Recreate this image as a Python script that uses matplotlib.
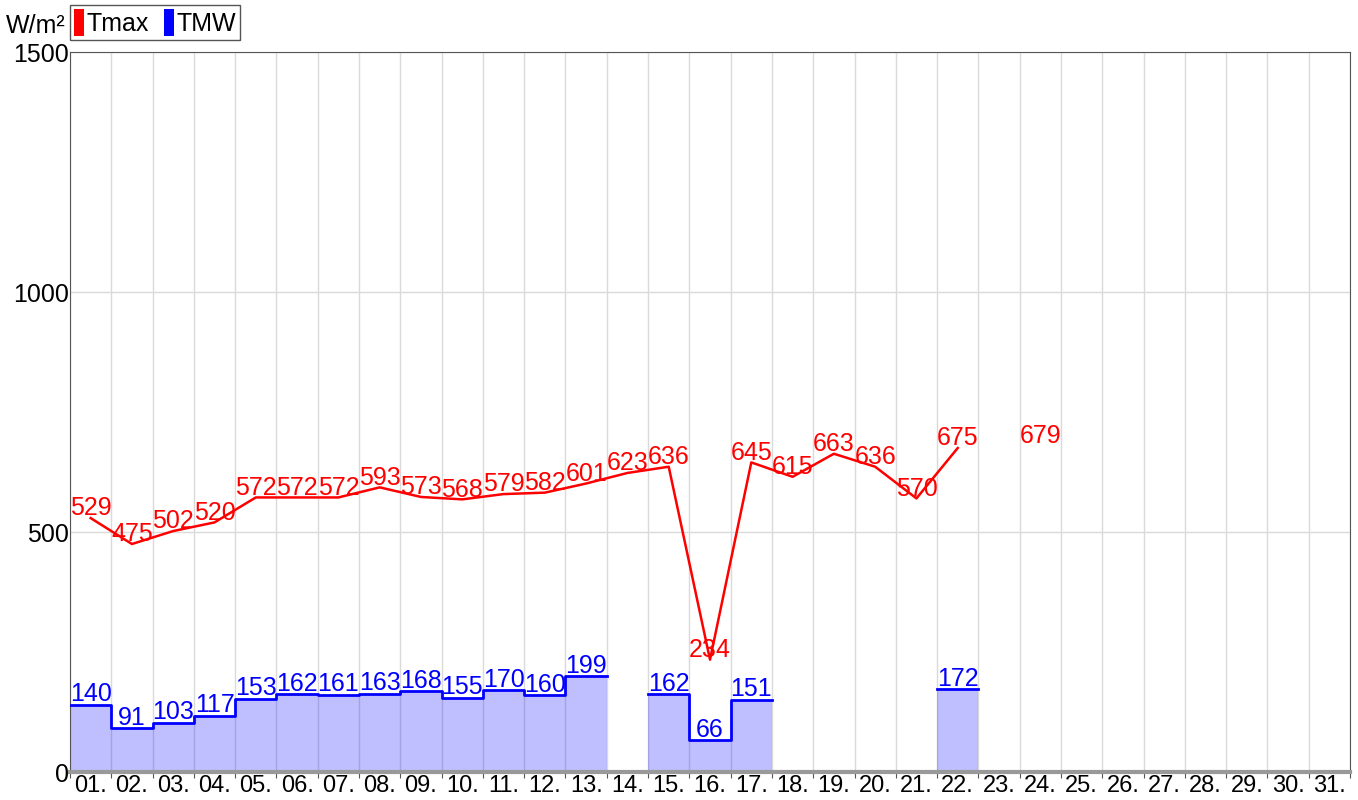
import numpy as np
import matplotlib.pyplot as plt
from matplotlib.patches import Patch

plt.rcParams['font.family'] = ['Liberation Sans', 'DejaVu Sans']

days = [f"{d:02d}." for d in range(1, 32)]
# daily max irradiance (None = no data)
tmax = [529, 475, 502, 520, 572, 572, 572, 593, 573, 568, 579, 582, 601, 623,
        636, 234, 645, 615, 663, 636, 570, 675, None, 679] + [None] * 7
# daily mean irradiance
tmw = [140, 91, 103, 117, 153, 162, 161, 163, 168, 155, 170, 160, 199, None,
       162, 66, 151, None, None, None, None, 172] + [None] * 9

FS = 18

fig = plt.figure(figsize=(13.58, 8), dpi=100)
ax = fig.add_axes([70 / 1358, 28 / 800, 1280 / 1358, 720 / 800])

n = len(days)
centers = np.arange(n) + 0.5

ax.set_axisbelow(True)
ax.grid(True, color='#dadada', linewidth=1)

# TMW bars as stepped fill, one block per contiguous run of days
runs = []
cur = []
for i, v in enumerate(tmw):
    if v is None:
        if cur:
            runs.append(cur)
        cur = []
    else:
        cur.append(i)
if cur:
    runs.append(cur)

for run in runs:
    xs = []
    ys = []
    for i in run:
        xs += [i, i + 1]
        ys += [tmw[i], tmw[i]]
    ax.fill_between(xs, 0, ys, color='blue', alpha=0.25, linewidth=0, zorder=2)
    ax.plot(xs, ys, color='blue', linewidth=2, zorder=3)

for i, v in enumerate(tmw):
    if v is not None:
        ax.text(centers[i], v - 3, str(v), color='blue', fontsize=FS,
                ha='center', va='bottom', zorder=5)

# Tmax line
ty = np.array([np.nan if v is None else v for v in tmax], dtype=float)
ax.plot(centers, ty, color='red', linewidth=1.8, zorder=4)
for i, v in enumerate(tmax):
    if v is not None:
        ax.text(centers[i], v - 5, str(v), color='red', fontsize=FS,
                ha='center', va='bottom', zorder=5)

ax.set_xlim(0, n)
ax.set_ylim(0, 1500)
ax.set_xticks(np.arange(n + 1))
ax.set_xticklabels([])
ax.set_xticks(centers, minor=True)
ax.set_xticklabels(days, minor=True, fontsize=17)
ax.tick_params(axis='x', which='minor', length=0, pad=2)
ax.tick_params(axis='x', which='major', length=4, color='#555555')
ax.set_yticks([0, 500, 1000, 1500])
ax.set_yticklabels(['0', '500', '1000', '1500'], fontsize=FS)
ax.tick_params(axis='y', length=0, pad=1)

for side in ['left', 'right', 'top']:
    ax.spines[side].set_color('#555555')
ax.spines['bottom'].set_color('#999999')
ax.spines['bottom'].set_linewidth(3)

fig.text(6 / 1358, 1 - 26 / 800, 'W/m²', fontsize=FS, va='center', ha='left')
handles = [Patch(facecolor='red', edgecolor='none'), Patch(facecolor='blue', edgecolor='none')]
leg = fig.legend(handles, ['Tmax', 'TMW'], loc='upper left', ncol=2,
                 bbox_to_anchor=(70 / 1358, 1 - 5 / 800), borderaxespad=0,
                 fancybox=False, edgecolor='#555555', framealpha=1,
                 fontsize=FS, handlelength=0.4, handleheight=1.3,
                 handletextpad=0.1, columnspacing=0.6, borderpad=0.15)
leg.get_frame().set_linewidth(1)

fig.savefig('out.png', dpi=100)
